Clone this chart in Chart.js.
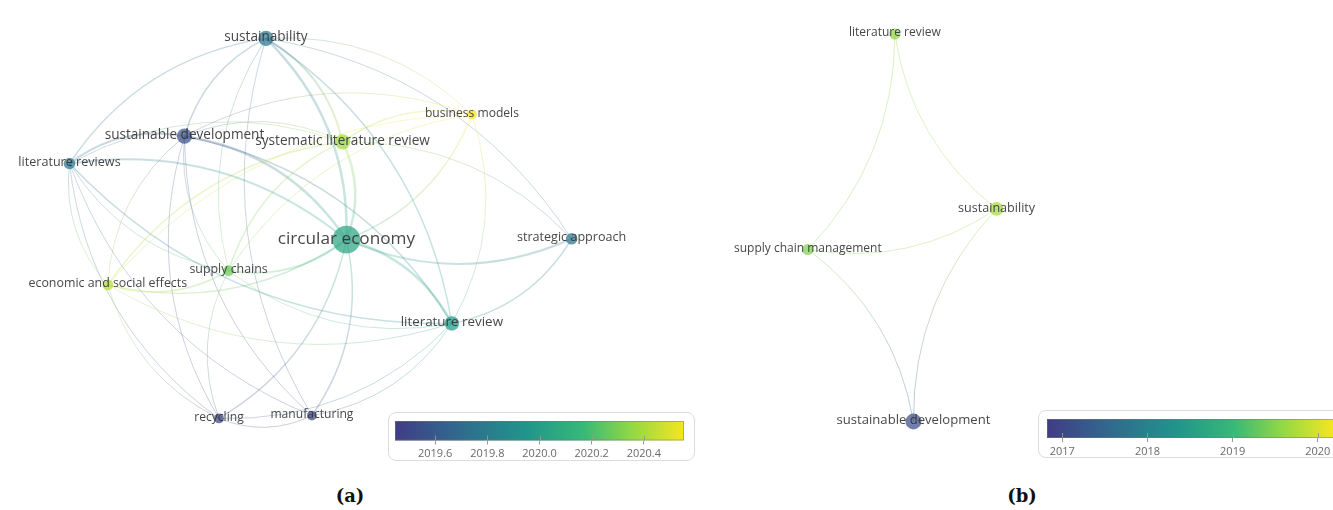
<!DOCTYPE html>
<html>
<head>
<meta charset="utf-8">
<script src="https://cdn.jsdelivr.net/npm/chart.js@4.4.0/dist/chart.umd.min.js"></script>
<style>
  body { margin: 0; width: 1333px; height: 510px; overflow: hidden; background: #fff; position: relative; }
  canvas { position: absolute; left: 0; top: 0; }
  .bar { position: absolute; border: 1px solid #dcdcdc; border-radius: 8px; overflow: hidden; background: #fff; }
  .cap { position: absolute; top: 485px; width: 60px; margin-left: -30px; text-align: center;
         font: bold 18px "DejaVu Serif", serif; color: #111; }
</style>
</head>
<body>
<canvas id="mapA" width="666" height="470"></canvas>
<canvas id="mapB" width="667" height="470" style="left:666px"></canvas>
<div class="bar" style="left:388px;top:412px;width:305px;height:47px"><canvas id="barA" width="305" height="47"></canvas></div>
<div class="bar" style="left:1038px;top:410px;width:310px;height:46px"><canvas id="barB" width="310" height="46"></canvas></div>
<div class="cap" style="left:350px">(a)</div>
<div class="cap" style="left:1022px">(b)</div>
<script>
// ---- map (a) ----
const termsA = ["sustainability", "business models", "sustainable development", "systematic literature review",
  "literature reviews", "circular economy", "strategic approach", "supply chains",
  "economic and social effects", "literature review", "recycling", "manufacturing"];
const mapXA = [263, 478, 178, 343, 58, 347, 582, 224, 98, 457, 214, 311];
const mapYA = [26, 107, 130, 136, 159, 240, 239, 273, 288, 329, 430, 427];
const yearA = [2019.75, 2020.55, 2019.55, 2020.38, 2019.75, 2020.05, 2019.75, 2020.28, 2020.42, 2019.97, 2019.5, 2019.5];
const occA = [12, 5, 12, 12, 7, 40, 7, 6, 6, 11, 5, 5];
const linksA = [
  ["circular economy", "sustainability", 4], ["circular economy", "sustainable development", 4],
  ["circular economy", "systematic literature review", 4], ["circular economy", "business models", 2],
  ["circular economy", "literature reviews", 3], ["circular economy", "strategic approach", 3],
  ["circular economy", "supply chains", 3], ["circular economy", "economic and social effects", 2],
  ["circular economy", "literature review", 4], ["circular economy", "recycling", 2],
  ["circular economy", "manufacturing", 2],
  ["sustainability", "sustainable development", 2], ["sustainability", "literature reviews", 2],
  ["sustainability", "systematic literature review", 3], ["sustainability", "business models", 1],
  ["sustainability", "strategic approach", 1], ["sustainability", "literature review", 2],
  ["sustainability", "supply chains", 1], ["sustainability", "manufacturing", 1],
  ["sustainable development", "literature reviews", 3], ["sustainable development", "systematic literature review", 1],
  ["sustainable development", "business models", 1], ["sustainable development", "economic and social effects", 1],
  ["sustainable development", "supply chains", 1], ["sustainable development", "recycling", 1],
  ["sustainable development", "manufacturing", 1], ["sustainable development", "literature review", 2],
  ["systematic literature review", "business models", 2], ["systematic literature review", "supply chains", 2],
  ["systematic literature review", "economic and social effects", 2], ["systematic literature review", "literature reviews", 1],
  ["systematic literature review", "strategic approach", 1],
  ["literature reviews", "economic and social effects", 1], ["literature reviews", "supply chains", 1],
  ["literature reviews", "literature review", 2], ["literature reviews", "recycling", 1],
  ["literature reviews", "manufacturing", 1],
  ["business models", "supply chains", 1], ["business models", "economic and social effects", 1],
  ["business models", "literature review", 1],
  ["supply chains", "economic and social effects", 2], ["supply chains", "literature review", 1],
  ["supply chains", "recycling", 1],
  ["economic and social effects", "literature review", 1], ["economic and social effects", "recycling", 1],
  ["literature review", "recycling", 1], ["literature review", "strategic approach", 2],
  ["literature review", "manufacturing", 1], ["recycling", "manufacturing", 1]
];
const rangeA = [2019.446, 2020.554];
const ticksA = [2019.6, 2019.8, 2020.0, 2020.2, 2020.4];

// ---- map (b) ----
const termsB = ["literature review", "sustainability", "supply chain management", "sustainable development"];
const mapXB = [892, 996, 803, 911];
const mapYB = [27, 208, 250, 428];
const yearB = [2019.55, 2019.7, 2019.45, 2017.1];
const occB = [4, 6, 4, 8];
const linksB = [
  ["literature review", "supply chain management", 1], ["literature review", "sustainability", 1],
  ["supply chain management", "sustainability", 1], ["supply chain management", "sustainable development", 1],
  ["sustainability", "sustainable development", 1]
];
const rangeB = [2016.82, 2020.19];
const ticksB = [2017, 2018, 2019, 2020];

// viridis-like colour map
const stops = [[0, [64, 60, 133]], [0.2, [50, 102, 142]], [0.45, [33, 148, 139]],
  [0.65, [55, 184, 120]], [0.82, [146, 216, 68]], [1, [246, 230, 32]]];
function viridis(t) {
  t = Math.max(0, Math.min(1, t));
  for (let i = 1; i < stops.length; i++) {
    if (t <= stops[i][0]) {
      const a = stops[i - 1], b = stops[i];
      const f = (t - a[0]) / (b[0] - a[0]);
      return a[1].map((c, k) => Math.round(c + (b[1][k] - c) * f));
    }
  }
  return stops[stops.length - 1][1];
}
const rgba = (c, a) => `rgba(${c[0]},${c[1]},${c[2]},${a})`;

function networkPlugin(cfg) {
  const pts = chart => cfg.terms.map((t, i) =>
    [chart.scales.x.getPixelForValue(cfg.xs[i]), chart.scales.y.getPixelForValue(cfg.ys[i])]);
  const col = i => viridis((cfg.years[i] - cfg.range[0]) / (cfg.range[1] - cfg.range[0]));
  return {
    id: 'network',
    beforeDatasetsDraw(chart) {
      const ctx = chart.ctx, P = pts(chart);
      const cx = P.reduce((s, p) => s + p[0], 0) / P.length;
      const cy = P.reduce((s, p) => s + p[1], 0) / P.length;
      ctx.save();
      [...cfg.links].sort((a, b) => a[2] - b[2]).forEach(l => {
        const i = cfg.terms.indexOf(l[0]), j = cfg.terms.indexOf(l[1]);
        const a = P[i], b = P[j];
        const dx = b[0] - a[0], dy = b[1] - a[1], len = Math.hypot(dx, dy);
        const nx = dy / len, ny = -dx / len;
        const mx = (a[0] + b[0]) / 2, my = (a[1] + b[1]) / 2;
        let s;
        if (cfg.bend) s = cfg.bend[cfg.links.indexOf(l)];
        else s = Math.sign(nx * (mx - cx) + ny * (my - cy)) || 1;
        const qx = mx + nx * s * cfg.curv * len, qy = my + ny * s * cfg.curv * len;
        const g = ctx.createLinearGradient(a[0], a[1], b[0], b[1]);
        g.addColorStop(0, rgba(col(i), cfg.alpha));
        g.addColorStop(1, rgba(col(j), cfg.alpha));
        ctx.strokeStyle = g;
        ctx.lineWidth = 0.5 + l[2] * 0.5;
        ctx.beginPath();
        ctx.moveTo(a[0], a[1]);
        ctx.quadraticCurveTo(qx, qy, b[0], b[1]);
        ctx.stroke();
      });
      ctx.restore();
    },
    afterDatasetsDraw(chart) {
      const ctx = chart.ctx, P = pts(chart);
      ctx.save();
      ctx.textAlign = 'center';
      ctx.textBaseline = 'middle';
      ctx.fillStyle = 'rgba(50,50,50,0.9)';
      cfg.terms.forEach((t, i) => {
        const size = cfg.fontBase + cfg.fontK * Math.sqrt(cfg.occ[i]);
        ctx.font = `${size.toFixed(1)}px "Open Sans"`;
        ctx.fillText(t, P[i][0], P[i][1] - 1);
      });
      ctx.restore();
    }
  };
}

function drawMap(id, cfg) {
  new Chart(document.getElementById(id), {
    type: 'bubble',
    data: {
      datasets: [{
        data: cfg.terms.map((t, i) => ({ x: cfg.xs[i], y: cfg.ys[i], r: cfg.rK * Math.sqrt(cfg.occ[i]) })),
        backgroundColor: cfg.years.map(y => rgba(viridis((y - cfg.range[0]) / (cfg.range[1] - cfg.range[0])), 0.72)),
        borderWidth: 0
      }]
    },
    options: {
      responsive: false, animation: false, events: [],
      layout: { padding: 0 },
      plugins: { legend: { display: false }, tooltip: { enabled: false } },
      scales: {
        x: { type: 'linear', display: false, min: cfg.xMin, max: cfg.xMin + 666 },
        y: { type: 'linear', display: false, min: 0, max: 470, reverse: true }
      }
    },
    plugins: [networkPlugin(cfg)]
  });
}

drawMap('mapA', { terms: termsA, xs: mapXA, ys: mapYA, years: yearA, occ: occA, links: linksA,
  range: rangeA, xMin: 0, rK: 2.2, curv: 0.22, alpha: 0.26, fontBase: 9.3, fontK: 1.25 });
drawMap('mapB', { terms: termsB, xs: mapXB, ys: mapYB, years: yearB, occ: occB, links: linksB,
  range: rangeB, xMin: 666, rK: 2.8, curv: 0.2, alpha: 0.32, fontBase: 9.3, fontK: 1.35,
  bend: [1, -1, -1, 1, -1] });

const gradientPlugin = {
  id: 'gradient',
  beforeDatasetsDraw(chart) {
    const { ctx, chartArea: a } = chart;
    const g = ctx.createLinearGradient(a.left, 0, a.right, 0);
    stops.forEach(s => g.addColorStop(s[0], rgba(s[1], 1)));
    ctx.save();
    ctx.fillStyle = g;
    ctx.fillRect(a.left, a.top, a.right - a.left, a.bottom - a.top);
    ctx.strokeStyle = 'rgba(120,120,120,0.5)';
    ctx.lineWidth = 1;
    ctx.strokeRect(a.left + 0.5, a.top + 0.5, a.right - a.left - 1, a.bottom - a.top - 1);
    // short tick marks reaching into the bar, as in the legend of the original map
    ctx.strokeStyle = 'rgba(150,150,150,0.9)';
    chart.scales.x.ticks.forEach(t => {
      const x = Math.round(chart.scales.x.getPixelForValue(t.value)) + 0.5;
      ctx.beginPath();
      ctx.moveTo(x, a.bottom - 5);
      ctx.lineTo(x, a.bottom);
      ctx.stroke();
    });
    ctx.restore();
  }
};

function drawBar(id, range, ticks, digits, pad) {
  new Chart(document.getElementById(id), {
    type: 'scatter',
    data: { datasets: [{ data: [] }] },
    options: {
      responsive: false, animation: false, events: [],
      layout: { padding: pad },
      plugins: { legend: { display: false }, tooltip: { enabled: false } },
      scales: {
        x: {
          type: 'linear', position: 'bottom', min: range[0], max: range[1],
          afterBuildTicks: axis => { axis.ticks = ticks.map(v => ({ value: v })); },
          border: { display: false },
          grid: { drawOnChartArea: false, drawTicks: true, tickLength: 4, color: '#999' },
          ticks: { padding: 3, color: '#6a6a6a', font: { family: 'Open Sans', size: 11 },
                   maxRotation: 0, autoSkip: false, callback: v => v.toFixed(digits) }
        },
        y: { display: false }
      }
    },
    plugins: [gradientPlugin]
  });
}

drawBar('barA', rangeA, ticksA, 1, { left: 6, right: 10, top: 8, bottom: 0 });
drawBar('barB', rangeB, ticksB, 0, { left: 8, right: 15, top: 8, bottom: 0 });
</script>
</body>
</html>
